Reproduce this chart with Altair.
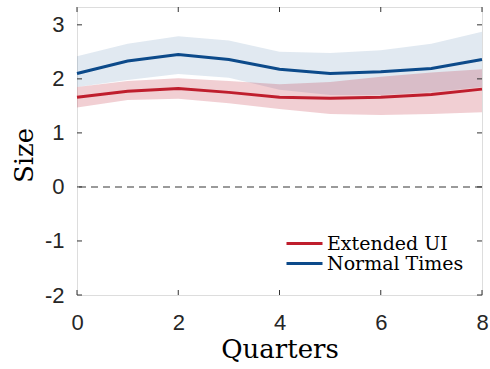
import altair as alt
import pandas as pd

quarters = [0, 1, 2, 3, 4, 5, 6, 7, 8]
series_names = ["Extended UI", "Normal Times"]

ext_mean = [1.66, 1.77, 1.82, 1.75, 1.66, 1.64, 1.66, 1.71, 1.81]
ext_upper = [1.85, 1.96, 2.01, 1.96, 1.90, 1.94, 2.04, 2.12, 2.18]
ext_lower = [1.47, 1.61, 1.63, 1.55, 1.44, 1.35, 1.33, 1.35, 1.38]

norm_mean = [2.10, 2.33, 2.45, 2.36, 2.18, 2.10, 2.13, 2.19, 2.36]
norm_upper = [2.42, 2.65, 2.79, 2.71, 2.50, 2.48, 2.53, 2.65, 2.87]
norm_lower = [1.85, 1.98, 2.09, 2.02, 1.80, 1.70, 1.70, 1.75, 1.85]

x_ticks = [0, 2, 4, 6, 8]
y_ticks = [-2, -1, 0, 1, 2, 3]

RED = "#BF1E2D"
BLUE = "#0C4A8A"
SERIF = "DejaVu Serif"

W, H = 405, 288

rows = []
for name, m, lo, hi in [
    (series_names[0], ext_mean, ext_lower, ext_upper),
    (series_names[1], norm_mean, norm_lower, norm_upper),
]:
    for q, a, b, c in zip(quarters, m, lo, hi):
        rows.append({"q": q, "series": name, "mean": a, "lo": b, "hi": c})
df = pd.DataFrame(rows)

xs = alt.Scale(domain=[0, 8], nice=False, zero=False)
ys = alt.Scale(domain=[-2, 3.33], nice=False, zero=False)

label_expr = "datum.value < 0 ? '-' + abs(datum.value) : '' + datum.value"

x_axis = alt.Axis(
    values=x_ticks, title="Quarters", grid=False, domain=False, ticks=False,
    labelFont="Liberation Sans", labelFontSize=22, labelColor="#262626",
    labelBaseline="alphabetic", labelPadding=34, labelFlush=False,
    labelExpr=label_expr,
    titleFont=SERIF, titleFontSize=26, titleFontWeight="normal",
    titleColor="#000000", titleBaseline="alphabetic", titleY=62,
)
y_axis = alt.Axis(
    values=y_ticks, title="Size", grid=False, domain=False, ticks=False,
    labelFont="Liberation Sans", labelFontSize=22, labelColor="#262626",
    labelPadding=13, labelFlush=False, labelExpr=label_expr,
    titleFont=SERIF, titleFontSize=26, titleFontWeight="normal",
    titleColor="#000000", titleBaseline="alphabetic", titleX=-45, titleY=148,
    titleAlign="center", titleAngle=270,
)

base = alt.Chart(df)

band_blue = base.transform_filter(alt.datum.series == "Normal Times").mark_area(
    color=BLUE, opacity=0.12
).encode(
    x=alt.X("q:Q", scale=xs, axis=x_axis),
    y=alt.Y("lo:Q", scale=ys, axis=y_axis),
    y2="hi:Q",
)
band_red = base.transform_filter(alt.datum.series == "Extended UI").mark_area(
    color=RED, opacity=0.21
).encode(
    x=alt.X("q:Q", scale=xs),
    y=alt.Y("lo:Q", scale=ys),
    y2="hi:Q",
)

zero = alt.Chart(pd.DataFrame({"z": [0]})).mark_rule(
    color="#7a7a7a", strokeDash=[7, 5], strokeWidth=1.5
).encode(y=alt.Y("z:Q", scale=ys))

lines = base.mark_line(strokeWidth=3).encode(
    x=alt.X("q:Q", scale=xs),
    y=alt.Y("mean:Q", scale=ys),
    color=alt.Color(
        "series:N",
        scale=alt.Scale(domain=series_names, range=[RED, BLUE]),
        legend=alt.Legend(
            title=None, orient="none", legendX=218, legendY=227,
            symbolType="M-3,0H3", symbolSize=144, symbolStrokeWidth=3,
            labelFont=SERIF, labelFontSize=19, labelColor="#000000",
            labelOffset=13, rowPadding=0, padding=0,
        ),
    ),
)

xt = pd.DataFrame({"t": x_ticks})
yt = pd.DataFrame({"t": y_ticks})
tick_style = dict(color="#333333", strokeWidth=1)
tb = alt.Chart(xt).mark_rule(**tick_style).encode(
    x=alt.X("t:Q", scale=xs), y=alt.value(H), y2=alt.value(H - 5))
tt = alt.Chart(xt).mark_rule(**tick_style).encode(
    x=alt.X("t:Q", scale=xs), y=alt.value(0), y2=alt.value(5))
tl = alt.Chart(yt).mark_rule(**tick_style).encode(
    y=alt.Y("t:Q", scale=ys), x=alt.value(0), x2=alt.value(5))
tr = alt.Chart(yt).mark_rule(**tick_style).encode(
    y=alt.Y("t:Q", scale=ys), x=alt.value(W), x2=alt.value(W - 5))

chart = alt.layer(band_blue, band_red, zero, lines, tb, tt, tl, tr).properties(
    width=W, height=H,
    autosize=alt.AutoSizeParams(type="none"),
    padding={"left": 77, "top": 7, "right": 8, "bottom": 74},
).configure_view(stroke="#333333", strokeWidth=1).configure(background="white")

chart.save("out.html", embed_options={"renderer": "svg", "actions": False})
